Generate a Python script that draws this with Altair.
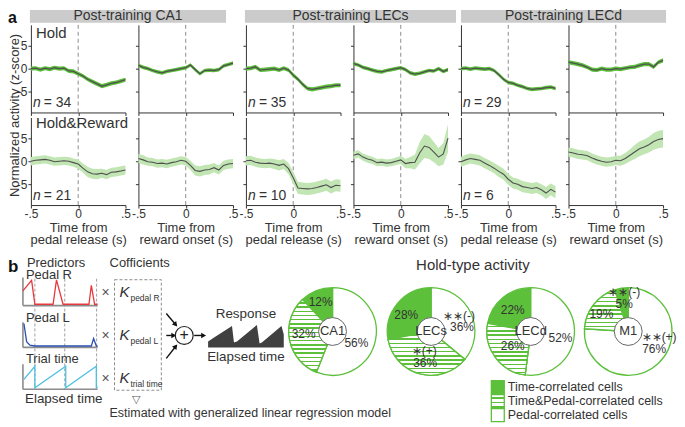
import math
import altair as alt
import numpy as np
import pandas as pd

# ---------------------------------------------------------------- data
T = [-0.5, -0.45, -0.4, -0.35, -0.3, -0.25, -0.2, -0.15, -0.1, -0.05, 0.0,
     0.05, 0.1, 0.15, 0.2, 0.25, 0.3, 0.35, 0.4, 0.45, 0.5]

headers = ["Post-training CA1", "Post-training LECs", "Post-training LECd"]
alignments = ["pedal release", "reward onset"]
row_labels = ["Hold", "Hold&Reward"]
n_hold = [34, 35, 29]
n_hold_reward = [21, 10, 6]

hold_ca1_pedal = [0.0, 0.1, -0.2, 0.1, -0.1, 0.2, 0.0, 0.1, -0.5, -0.6, -1.1,
                  -1.6, -2.3, -2.8, -3.3, -3.8, -3.5, -3.2, -3.0, -2.7, -2.4]
hold_ca1_reward = [0.7, 0.3, 0.0, -0.4, -0.7, -0.9, -0.6, -0.4, -0.2, 0.0, 0.2,
                   0.8, -0.2, -1.1, -0.4, -0.3, -0.4, -0.2, 0.6, 0.9, 1.2]
hold_lecs_pedal = [0.0, 0.1, 0.4, -0.3, -0.2, -0.1, 0.0, -0.3, 0.1, -0.3, -1.4,
                   -2.3, -3.4, -4.3, -4.5, -4.3, -4.1, -3.9, -3.8, -3.6, -3.6]
hold_lecs_reward = [1.1, 0.8, 0.3, 0.0, -0.3, -0.6, -0.7, -0.4, -0.2, 0.0, 0.2,
                    -0.2, -0.9, -1.2, -1.0, -0.7, -0.4, -0.5, 0.0, -0.6, -0.2]
hold_lecd_pedal = [0.0, 0.1, -0.1, 0.1, 0.0, -0.1, 0.0, -0.4, -1.3, -2.3, -3.0,
                   -3.2, -3.6, -3.9, -4.3, -4.5, -4.4, -4.3, -4.1, -4.0, -4.3]
hold_lecd_reward = [1.4, 1.2, 1.0, 0.7, 0.3, -0.2, -0.3, 0.0, -0.2, -0.2, 0.0,
                    -0.1, 0.1, 0.3, 0.4, 0.7, 1.0, 1.0, 0.4, 1.4, 1.8]
hold_sem = [0.45, 0.4, 0.45, 0.4, 0.4, 0.45]

hr_ca1_pedal = [0.0, 0.2, 0.3, 0.4, 0.2, -0.1, 0.0, 0.1, 0.0, -0.3, -0.6,
                -1.5, -2.3, -2.7, -2.8, -2.6, -2.9, -2.4, -2.3, -2.1, -1.9]
hr_ca1_reward = [0.6, 0.3, -0.1, -0.2, -0.5, -0.4, -0.6, -0.3, -0.1, 0.2, 0.0,
                 -0.9, -2.0, -2.2, -1.9, -1.8, -1.4, -1.9, -0.9, -0.6, -0.5]
hr_lecs_pedal = [0.1, 0.2, -0.2, -0.4, -0.5, -0.4, -0.6, -0.9, -0.6, -1.6, -3.6,
                 -5.8, -5.9, -6.0, -5.9, -5.7, -5.4, -5.1, -5.7, -5.2, -5.3]
hr_lecs_reward = [1.3, 1.6, 0.9, 0.5, 0.2, -0.3, -0.2, -0.4, -0.3, 0.0, 0.3,
                  -0.5, -0.3, -0.2, 1.8, 3.3, 3.0, 2.0, 0.9, 1.6, 5.0]
hr_lecd_pedal = [-0.1, 0.3, 0.6, 0.4, 0.2, -0.4, -0.9, -1.5, -2.2, -2.8, -3.9,
                 -4.7, -5.0, -5.5, -5.7, -5.9, -5.7, -6.2, -6.9, -6.1, -6.7]
hr_lecd_reward = [2.0, 1.8, 1.5, 1.4, 1.2, 0.7, 0.3, 0.0, -0.2, -0.1, 0.2,
                  0.1, 0.6, 1.3, 2.0, 2.7, 3.1, 3.6, 4.3, 4.7, 4.9]

sem_hr_ca1_pedal = [0.9, 0.9, 0.9, 0.9, 0.9, 0.9, 0.9, 0.9, 0.9, 0.9, 1.0,
                    1.0, 1.1, 1.1, 1.1, 1.0, 1.0, 1.0, 1.0, 1.0, 1.0]
sem_hr_ca1_reward = [1.0, 1.0, 0.9, 0.9, 0.9, 0.9, 0.9, 0.9, 0.9, 0.9, 0.9,
                     1.0, 1.1, 1.1, 1.1, 1.1, 1.0, 1.0, 1.0, 1.0, 1.0]
sem_hr_lecs_pedal = [1.0, 1.0, 1.0, 1.0, 1.0, 1.0, 1.1, 1.1, 1.1, 1.2, 1.3,
                     1.3, 1.3, 1.3, 1.3, 1.3, 1.3, 1.3, 1.3, 1.3, 1.3]
sem_hr_lecs_reward = [0.8, 0.8, 0.8, 0.8, 0.8, 0.8, 0.8, 0.8, 0.8, 0.8, 0.9,
                      1.0, 1.2, 1.6, 2.3, 2.6, 2.5, 2.2, 2.0, 2.3, 3.0]
sem_hr_lecd_pedal = [1.1, 1.1, 1.1, 1.1, 1.1, 1.1, 1.1, 1.1, 1.2, 1.2, 1.2,
                     1.2, 1.2, 1.2, 1.2, 1.2, 1.2, 1.2, 1.3, 1.3, 1.3]
sem_hr_lecd_reward = [1.0, 1.0, 1.0, 1.0, 1.0, 1.0, 1.0, 1.0, 1.0, 1.0, 1.0,
                      1.1, 1.2, 1.3, 1.5, 1.6, 1.6, 1.7, 1.8, 1.9, 1.9]

hold_means = [hold_ca1_pedal, hold_ca1_reward, hold_lecs_pedal,
              hold_lecs_reward, hold_lecd_pedal, hold_lecd_reward]
hr_means = [hr_ca1_pedal, hr_ca1_reward, hr_lecs_pedal,
            hr_lecs_reward, hr_lecd_pedal, hr_lecd_reward]
hr_sems = [sem_hr_ca1_pedal, sem_hr_ca1_reward, sem_hr_lecs_pedal,
           sem_hr_lecs_reward, sem_hr_lecd_pedal, sem_hr_lecd_reward]

# schematic predictors (elapsed time, normalised amplitude)
pedal_r_t = [0.0, 0.87, 1.2, 3.03, 3.37, 4.03, 6.63, 6.87, 7.2, 7.5]
pedal_r_v = [0.55, 0.94, 0.05, 0.05, 0.96, 0.05, 0.05, 0.75, 0.05, 0.05]
pedal_l_t = [0.1, 0.37, 0.7, 1.2, 6.87, 7.1, 7.37, 7.5]
pedal_l_v = [1.0, 0.24, 0.09, 0.06, 0.06, 0.37, 0.06, 0.06]
trial_t = [0.1, 1.2, 1.2, 4.3, 4.3, 7.37, 7.37, 7.5]
trial_v = [0.41, 0.96, 0.06, 0.96, 0.06, 0.96, 0.06, 0.1]
event_t = [1.2, 4.2, 7.4]
response_t = [0.0, 0.6, 2.4, 2.6, 2.9, 4.9, 5.17, 5.4, 7.37, 7.6]
response_v = [0.23, 0.38, 0.83, 0.19, 0.23, 0.87, 0.15, 0.19, 0.83, 0.5]

# pie charts
pie_regions = ["CA1", "LECs", "LECd", "M1"]
pct_time = [12, 28, 22, 5]
pct_time_pedal = [32, 36, 26, 19]
pct_pedal = [56, 36, 52, 76]
cats = ["Time-correlated cells", "Time&Pedal-correlated cells", "Pedal-correlated cells"]
pie_labels = [
    [("12%", -12, -30), ("32%", -29, 3), ("56%", 24, 12)],
    [("28%", -25, -17), ("\u2217\u2217(-)", 28, -16), ("36%", 31, -4),
     ("\u2217(+)", -7, 20), ("36%", -6, 32)],
    [("22%", -18, -22), ("26%", -18, 15), ("52%", 30, 7)],
    [("\u2217\u2217(-)", -4, -40), ("5%", -4, -28), ("19%", -27, -18),
     ("\u2217\u2217(+)", 31, 6), ("76%", 26, 18)],
]

# ---------------------------------------------------------------- styling
GREEN = "#5cc03b"
LIGHT = "#c1e5b3"
INK = "#333333"
LINE = "#505050"
ONE = pd.DataFrame({"k": [0]})


def txt(s, x, y, size=13, align="left", color=INK, **kw):
    return alt.Chart(ONE).mark_text(
        text=s, align=align, baseline="middle", fontSize=size, color=color, **kw
    ).encode(x=alt.value(x), y=alt.value(y))


def seg(x1, y1, x2, y2, color="#111111", width=1.4, **kw):
    return alt.Chart(ONE).mark_rule(color=color, strokeWidth=width, **kw).encode(
        x=alt.value(x1), y=alt.value(y1), x2=alt.value(x2), y2=alt.value(y2))


def arrow(x1, y1, x2, y2):
    ang = math.degrees(math.atan2(y2 - y1, x2 - x1)) % 360
    L = math.hypot(x2 - x1, y2 - y1)
    hx = x2 - 2.5 * (x2 - x1) / L
    hy = y2 - 2.5 * (y2 - y1) / L
    head = alt.Chart(ONE).mark_point(shape="triangle-right", filled=True, size=32,
                                     angle=ang, color="#111111", opacity=1).encode(
        x=alt.value(hx), y=alt.value(hy))
    return [seg(x1, y1, x2 - 2 * (x2 - x1) / L, y2 - 2 * (y2 - y1) / L), head]


# ---------------------------------------------------------------- panel a
xs = alt.Scale(domain=[-0.5, 0.5], nice=False, zero=False)
ys = alt.Scale(domain=[-9.5, 9.5], nice=False, zero=False)
PW = 95
ROW_H = [88, 88]
HEADER_W = [197, 212, 206]
HEADER_X = [-1, -1, 0]


def row_panel(r, c):
    if r == 0:
        mean = hold_means[c]
        sem = [hold_sem[c]] * len(T)
        band_col = GREEN
    else:
        mean = hr_means[c]
        sem = hr_sems[c]
        band_col = LIGHT
    df = pd.DataFrame({"t": T, "m": mean,
                       "lo": [m - s for m, s in zip(mean, sem)],
                       "hi": [m + s for m, s in zip(mean, sem)]})
    bottom = r == 1
    xaxis = alt.Axis(values=[-0.5, 0, 0.5], labels=bottom, tickSize=3,
                     labelFlush=False,
                     labelExpr="datum.value == 0 ? '0' : replace(''+datum.value, '0.', '.')",
                     title=(["Time from", alignments[c % 2] + " (s)"] if bottom else None))
    yaxis = alt.Axis(values=[-5, 0, 5], labels=(c == 0), tickSize=3,
                     labelExpr="'' + datum.value", title=None)
    X = alt.X("t:Q", scale=xs, axis=xaxis)
    zero = alt.Chart(pd.DataFrame({"t": [0.0]})).mark_rule(
        color="#8c8c8c", strokeDash=[4, 3], strokeWidth=1).encode(x=X)
    band = alt.Chart(df).mark_area(color=band_col, opacity=1).encode(
        x=X, y=alt.Y("lo:Q", scale=ys, axis=yaxis), y2="hi:Q")
    line = alt.Chart(df).mark_line(color=LINE, strokeWidth=1.3 if r == 0 else 1.1).encode(
        x=X, y=alt.Y("m:Q", scale=ys, axis=yaxis))
    layers = [zero, band, line]
    if c == 0:
        layers.append(txt(row_labels[r], 5, 8 if r == 0 else 6, size=15))
    if c % 2 == 0:
        n = (n_hold if r == 0 else n_hold_reward)[c // 2]
        ny = ROW_H[r] - 9
        layers.append(txt("n", 2, ny, size=14, fontStyle="italic"))
        layers.append(txt("= %d" % n, 13, ny, size=14))
    if r == 0 and c % 2 == 0:
        g = c // 2
        x0 = HEADER_X[g]
        layers.append(alt.Chart(ONE).mark_rect(color="#cbcbcb").encode(
            x=alt.value(x0), x2=alt.value(x0 + HEADER_W[g]),
            y=alt.value(-15), y2=alt.value(-2)))
        layers.append(txt(headers[g], x0 + HEADER_W[g] / 2, -8.5, size=14, align="center"))
    if r == 0 and c == 0:
        layers.append(txt("a", -23, -7, size=16, fontWeight="bold", color="#111111"))
        layers.append(txt("Normalized activity (z-score)", -16, 91, size=13,
                          align="center", angle=270))
    return alt.layer(*layers).properties(width=PW, height=ROW_H[r])


panels = [row_panel(r, c) for r in range(2) for c in range(6)]
grid_a = alt.concat(*panels, columns=6, spacing={"row": 5, "column": 13}, bounds="flush")

# ---------------------------------------------------------------- panel b : predictors
# the predictor block starts 8px left of the panel-a column, hence the x range offset
PRED_OFF = 8
PRED_W = 67
PRED_H = 111
pred_xs = alt.Scale(domain=[0, 7.5], range=[-PRED_OFF, PRED_W], nice=False, zero=False)


def ydomain(top, bottom, H):
    u = bottom - top
    hi = 1 + top / u
    return [hi - H / u, hi]


def pred_layers(t, v, top, bottom, color):
    ysc = alt.Scale(domain=ydomain(top, bottom, PRED_H), nice=False, zero=False)
    df = pd.DataFrame({"t": t, "v": v, "i": list(range(len(t)))})
    ax = pd.DataFrame({"t0": [0.0, 0.0], "t1": [0.0, 7.5], "v0": [0.0, 0.0], "v1": [1.05, 0.0]})
    axes = alt.Chart(ax).mark_rule(color="#8c8c8c", strokeWidth=1.6).encode(
        x=alt.X("t0:Q", scale=pred_xs, axis=None), x2="t1:Q",
        y=alt.Y("v0:Q", scale=ysc, axis=None), y2="v1:Q")
    line = alt.Chart(df).mark_line(color=color, strokeWidth=1.3).encode(
        x=alt.X("t:Q", scale=pred_xs, axis=None),
        y=alt.Y("v:Q", scale=ysc, axis=None), order="i:Q")
    return [axes, line]


events = alt.Chart(pd.DataFrame({"t": event_t})).mark_rule(
    color="#a0a0a0", strokeDash=[3, 2], strokeWidth=1).encode(
    x=alt.X("t:Q", scale=pred_xs, axis=None))

px = -PRED_OFF
pred_chart = alt.layer(
    events,
    *pred_layers(pedal_r_t, pedal_r_v, 0, 27, "#e8383d"),
    *pred_layers(pedal_l_t, pedal_l_v, 45, 69, "#2a4fb0"),
    *pred_layers(trial_t, trial_v, 87, 111, "#4cc0df"),
    txt("b", px - 15, -12, size=17, fontWeight="bold", color="#111111"),
    txt("Predictors", px + 4, -16),
    txt("Pedal R", px + 3, -4),
    txt("Pedal L", px + 3, 39),
    txt("Trial time", px + 3, 81),
    txt("Elapsed time", px + 41, 121, align="center", size=13.5),
).properties(width=PRED_W, height=PRED_H).resolve_scale(y="independent")

# ---------------------------------------------------------------- panel b : coefficients canvas
CIRC_Y = 57
canvas_layers = [
    txt("Cofficients", 10, -16),
    alt.Chart(ONE).mark_rect(fillOpacity=0, stroke="#8c8c8c", strokeDash=[3, 2],
                             strokeWidth=1).encode(
        x=alt.value(15), x2=alt.value(62), y=alt.value(1), y2=alt.value(112)),
]
for (ky, sub) in [(13, "pedal R"), (57, "pedal L"), (100, "trial time")]:
    canvas_layers.append(txt("\u00d7", 6, ky + 1, size=14, align="center", color="#555555"))
    canvas_layers.append(txt("K", 25, ky, size=15, align="center", fontStyle="italic"))
    canvas_layers.append(txt(sub, 31, ky + 6, size=8.5))
canvas_layers += arrow(67, 35, 78, 48)
canvas_layers += arrow(67, CIRC_Y, 77, CIRC_Y)
canvas_layers += arrow(67, 80, 78, 66)
canvas_layers += arrow(95, CIRC_Y, 107, CIRC_Y)
canvas_layers.append(alt.Chart(ONE).mark_point(shape="circle", size=324, filled=False,
                                               color="#222222", strokeWidth=1.2, opacity=1).encode(
    x=alt.value(85), y=alt.value(CIRC_Y)))
canvas_layers.append(txt("+", 85, CIRC_Y - 0.5, size=16, align="center", color="#222222"))
canvas_layers.append(txt("\u25bd", 37, 122, size=11, align="center", color="#555555"))
canvas_layers.append(txt("Estimated with generalized linear regression model", 10, 135, size=12.5))
canvas = alt.layer(*canvas_layers).properties(width=107, height=130)

# ---------------------------------------------------------------- panel b : response
RESP_H = 69
resp_df = pd.DataFrame({"t": response_t, "v": response_v})
resp = alt.layer(
    alt.Chart(resp_df).mark_area(color="#404040").encode(
        x=alt.X("t:Q", scale=alt.Scale(domain=[0, 7.6], nice=False, zero=False), axis=None),
        y=alt.Y("v:Q", scale=alt.Scale(domain=[0, RESP_H / 26], nice=False), axis=None)),
    txt("Response", 38, 35, size=13.5, align="center"),
    txt("Elapsed time", 38, 79, size=13.5, align="center"),
).properties(width=76, height=RESP_H)

# ---------------------------------------------------------------- panel b : pies
R = 44
PIE_H = 106
CY = 53


def hatch(h, period=4.2, lw=1.5):
    stops = []
    k = 0
    while k * period < h:
        s = k * period / h
        g0 = min(1.0, (k * period + period - lw) / h)
        g1 = min(1.0, (k + 1) * period / h)
        stops += [alt.GradientStop(offset=round(s, 4), color="white"),
                  alt.GradientStop(offset=round(g0, 4), color="white"),
                  alt.GradientStop(offset=round(g0, 4), color=GREEN),
                  alt.GradientStop(offset=round(g1, 4), color=GREEN)]
        k += 1
    return alt.LinearGradient(gradient="linear", stops=stops, x1=0, x2=0, y1=0, y2=1)


def slice_height(a0, a1, r):
    th = np.linspace(a0, a1, 400) / 100 * 2 * np.pi
    y = np.concatenate([-r * np.cos(th), [0.0]])
    return float(y.max() - y.min())


def pie(i, width, cx, extra=()):
    vals = [pct_pedal[i], pct_time_pedal[i], pct_time[i]]
    cat = [cats[2], cats[1], cats[0]]
    ends = list(np.cumsum(vals))
    starts = [0] + ends[:-1]
    df = pd.DataFrame({"cat": cat, "pct": vals, "start": starts, "end": ends})
    theta = alt.Theta("start:Q", scale=alt.Scale(domain=[0, 100]), stack=None)
    base = alt.Chart(df).mark_arc(outerRadius=R, innerRadius=0, stroke=GREEN,
                                  strokeWidth=1.3).encode(
        theta=theta, theta2="end:Q", x=alt.value(cx), y=alt.value(CY),
        fill=alt.Fill("cat:N", scale=alt.Scale(domain=cats, range=[GREEN, "white", "white"]),
                      legend=None))
    h = slice_height(starts[1], ends[1], R)
    hat = alt.Chart(df).transform_filter(alt.datum.cat == cats[1]).mark_arc(
        outerRadius=R, innerRadius=0, stroke=GREEN, strokeWidth=1.3, fill=hatch(h)).encode(
        theta=theta, theta2="end:Q", x=alt.value(cx), y=alt.value(CY))
    inner = alt.Chart(ONE).mark_point(shape="circle", size=784, filled=True, fill="white",
                                      stroke="#666666", strokeWidth=1, opacity=1).encode(
        x=alt.value(cx), y=alt.value(CY))
    layers = [base, hat, inner, txt(pie_regions[i], cx, CY, size=13, align="center")]
    for (s, dx, dy) in pie_labels[i]:
        layers.append(txt(s, cx + dx, CY + dy, size=12, align="center"))
    layers += list(extra)
    return alt.layer(*layers).properties(width=width, height=PIE_H)


legend_layers = []
sq_fill = [GREEN, hatch(13, period=4.3), "white"]
for j, (cname, yy) in enumerate(zip(cats, [109, 123, 137])):
    legend_layers.append(alt.Chart(ONE).mark_square(size=169, fill=sq_fill[j], stroke=GREEN,
                                                    strokeWidth=1.3, opacity=1).encode(
        x=alt.value(15), y=alt.value(yy)))
    legend_layers.append(txt(cname, 25, yy, size=12.5))

pie0 = pie(0, 94, 47)
pie1 = pie(1, 100, 50, extra=[txt("Hold-type activity", 92, -14, size=15, align="center")])
pie2 = pie(2, 96, 48, extra=legend_layers)
pie3 = pie(3, 90, 48)

panel_b = alt.hconcat(pred_chart, canvas, resp, pie0, pie1, pie2, pie3,
                      spacing=2, bounds="flush")

chart = alt.vconcat(grid_a, panel_b, spacing=10).properties(padding=0).configure(
    font="Liberation Sans", padding=0).configure_view(stroke=None).configure_axis(
    grid=False, domainColor=INK, tickColor=INK, labelColor=INK, titleColor=INK,
    labelFontSize=12, titleFontSize=13, titleFontWeight="normal", titlePadding=2,
    labelPadding=1, titleLineHeight=12)

chart.save("out.html", embed_options={"renderer": "svg", "actions": False})
